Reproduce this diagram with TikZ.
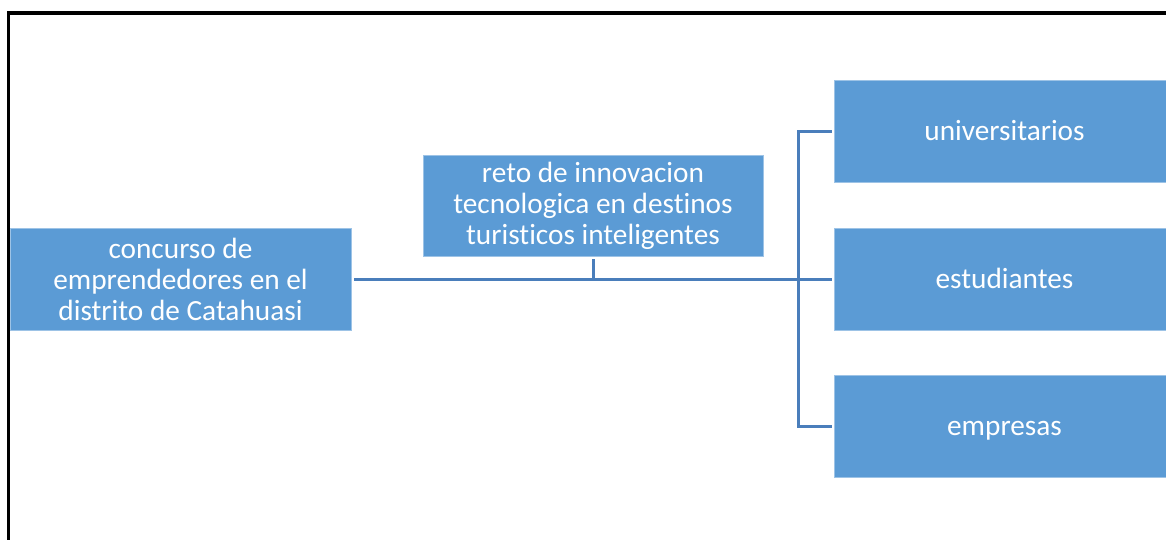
\documentclass[tikz,border=0pt]{standalone}
\usepackage{fontspec}
\setmainfont{Carlito}[Ligatures=NoCommon]
\definecolor{boxblue}{HTML}{5B9BD5}
\definecolor{linkblue}{HTML}{4A7EBB}
\begin{document}
\begin{tikzpicture}[x=1pt,y=1pt,
  bluebox/.style={rectangle, fill=boxblue, draw=boxblue!60!white, line width=0.8pt,
    minimum width=341pt, minimum height=102pt, inner sep=0pt, align=center,
    text=white, font=\fontsize{29.3}{31}\selectfont},
  onelinebox/.style={bluebox, text height=25pt, text depth=7pt},
  link/.style={draw=linkblue, line width=3pt}]
\clip (0,0) rectangle (1166,-539);
\fill[white] (0,0) rectangle (1166,-539);
\draw[black, line width=3.2pt] (8.5,-545) -- (8.5,-13) -- (1175,-13);
\node[bluebox] (src) at (180.5,-279) {concurso de\\emprendedores en el\\distrito de Catahuasi};
\node[bluebox, minimum width=340pt, minimum height=101pt] (reto) at (593,-205.5) {reto de innovacion\\tecnologica en destinos\\turisticos inteligentes};
\node[onelinebox] (univ) at (1004.5,-131) {universitarios};
\node[onelinebox] (estu) at (1004.5,-279) {estudiantes};
\node[onelinebox] (emp) at (1004.5,-426.5) {empresas};
\coordinate (stem) at (593,-279);
\coordinate (brtop) at (798,-131);
\coordinate (brbot) at (798,-426.5);
\draw[link] ([xshift=3pt]src.east) -- ([xshift=-2pt]estu.west);
\draw[link] ([yshift=-3pt]reto.south) -- (stem);
\draw[link] ([xshift=-2pt]univ.west) -- (brtop) -- (brbot) -- ([xshift=-2pt]emp.west);
\end{tikzpicture}
\end{document}
